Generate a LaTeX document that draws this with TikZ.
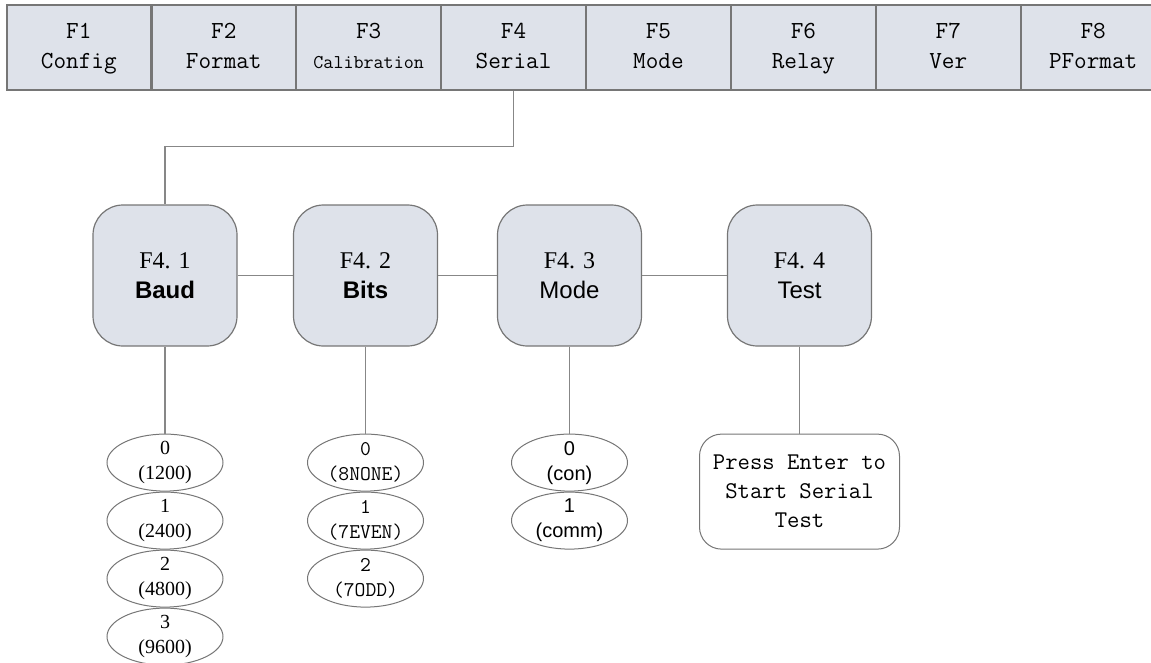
\documentclass[tikz,border=0pt]{standalone}
\usepackage{fontspec}
\setmainfont{Liberation Serif}
\setsansfont{Liberation Sans}
\usetikzlibrary{positioning,shapes.geometric}

\definecolor{keyfill}{RGB}{222,226,234}
\definecolor{keyline}{RGB}{118,118,118}
\definecolor{wire}{RGB}{135,135,135}

\newcommand{\keytxt}[2]{\strut#1\\\strut#2}

\tikzset{
  fkey/.style={rectangle, draw=keyline, fill=keyfill, line width=1.2pt,
    minimum width=143.7pt, minimum height=85pt, inner sep=0pt, align=center,
    font=\ttfamily\fontsize{24.5}{30}\selectfont},
  fsub/.style={rectangle, rounded corners=30pt, draw=keyline, fill=keyfill,
    line width=1.2pt, minimum width=144pt, minimum height=141pt, inner sep=0pt,
    align=center, font=\fontsize{24}{30}\selectfont},
  opt/.style={ellipse, draw=keyline, fill=white, line width=1pt,
    minimum width=116pt, minimum height=57pt, inner sep=0pt},
  optrm/.style={align=center, inner sep=0pt, font=\rmfamily\fontsize{20}{25}\selectfont},
  opttt/.style={align=center, inner sep=0pt, font=\ttfamily\fontsize{21}{25}\selectfont},
  optsf/.style={align=center, inner sep=0pt, font=\sffamily\fontsize{20}{25}\selectfont},
  note/.style={rectangle, rounded corners=22pt, draw=keyline, fill=white,
    line width=1pt, minimum width=200pt, minimum height=115pt, inner sep=0pt,
    align=center, font=\ttfamily\fontsize{24}{29}\selectfont},
  link/.style={draw=wire, line width=1.2pt}
}

\begin{document}
\begin{tikzpicture}[x=1pt, y=-1pt]
    \useasboundingbox (0,0) rectangle (1151,662);

    % Function keys {F1 ... F8}
    \node [fkey] (f1) at (78.85,47.5)   {\keytxt{F1}{Config}};
    \node [fkey] (f2) [right=0pt of f1] {\keytxt{F2}{Format}};
    \node [fkey] (f3) [right=0pt of f2] {\keytxt{F3}{\fontsize{19.5}{30}\selectfont Calibration}};
    \node [fkey] (f4) [right=0pt of f3] {\keytxt{F4}{Serial}};
    \node [fkey] (f5) [right=0pt of f4] {\keytxt{F5}{Mode}};
    \node [fkey] (f6) [right=0pt of f5] {\keytxt{F6}{Relay}};
    \node [fkey] (f7) [right=0pt of f6] {\keytxt{F7}{Ver}};
    \node [fkey] (f8) [right=0pt of f7] {\keytxt{F8}{PFormat}};

    % Serial sub menus {F4.1 ... F4.4}
    \node [fsub] (baud) at (165,275.5)   {F4. 1\\{\sffamily\bfseries Baud}};
    \node [fsub] (bits) at (365.5,275.5) {F4. 2\\{\sffamily\bfseries Bits}};
    \node [fsub] (mode) at (569.5,275.5) {F4. 3\\{\sffamily Mode}};
    \node [fsub] (test) at (799.5,275.5) {F4. 4\\{\sffamily Test}};

    % Options
    \node [opt, label={[optrm]center:0\\(1200)}] (baud0) [below=87pt of baud] {};
    \node [opt, label={[optrm]center:1\\(2400)}] (baud1) [below=0pt of baud0] {};
    \node [opt, label={[optrm]center:2\\(4800)}] (baud2) [below=0pt of baud1] {};
    \node [opt, label={[optrm]center:3\\(9600)}] (baud3) [below=0pt of baud2] {};

    \node [opt, label={[opttt]center:0\\(8NONE)}] (bits0) [below=87pt of bits] {};
    \node [opt, label={[opttt]center:1\\(7EVEN)}] (bits1) [below=0pt of bits0] {};
    \node [opt, label={[opttt]center:2\\(7ODD)}]  (bits2) [below=0pt of bits1] {};

    \node [opt, label={[optsf]center:0\\(con)}]  (mode0) [below=87pt of mode] {};
    \node [opt, label={[optsf]center:1\\(comm)}] (mode1) [below=0pt of mode0] {};

    \node [note] (hint) [below=87pt of test] {Press Enter to\\Start Serial\\Test};

    % Paths
    \draw [link] (f4.south) -- ++(0,56) -| (baud.north);
    \path [link] (baud) edge (bits);
    \path [link] (bits) edge (mode);
    \path [link] (mode) edge (test);
    \path [link] (baud) edge (baud0);
    \path [link] (bits) edge (bits0);
    \path [link] (mode) edge (mode0);
    \path [link] (test) edge (hint);

\end{tikzpicture}
\end{document}
